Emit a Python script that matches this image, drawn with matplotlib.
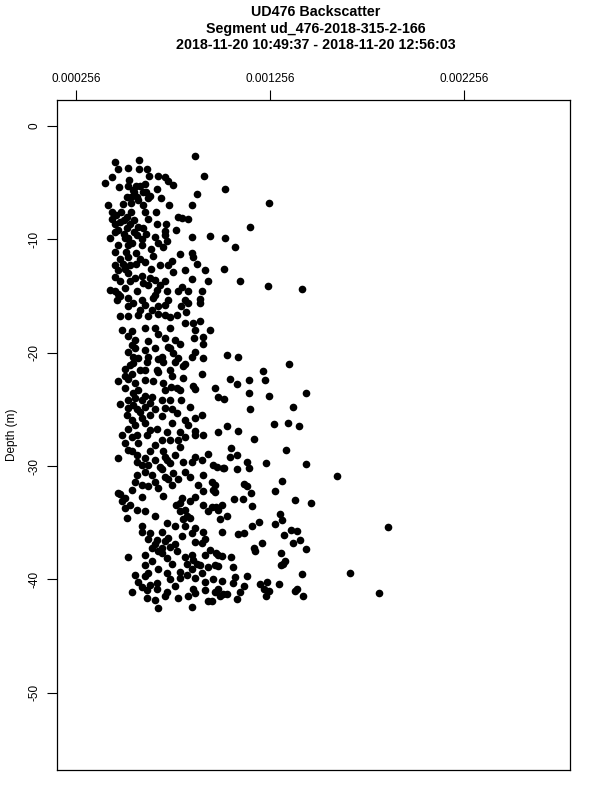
import numpy as np
import matplotlib
matplotlib.use("Agg")
import matplotlib.pyplot as plt

plt.rcParams['font.family'] = ['Liberation Sans', 'DejaVu Sans']
plt.rcParams['axes.unicode_minus'] = False

# backscatter values in units of 1e-6, depth in metres
bs_upper = [454, 581, 473, 521, 581, 619, 442, 404, 631, 679,
            715, 526, 476, 563, 610, 727, 753, 555, 600, 672,
            519, 568, 627, 877, 421, 496, 538, 599, 693, 733,
            854, 439, 487, 538, 610, 667, 779, 803, 834, 442,
            501, 555, 627, 672, 720, 456, 516, 576, 770, 714,
            456, 501, 554, 616, 430, 524, 593, 662, 712, 853,
            473, 524, 593, 679, 722, 456, 514, 566, 641, 705,
            792, 854, 524, 585, 653, 748, 859, 456, 499, 563,
            689, 731, 877, 507, 641, 756, 817, 920, 456, 524,
            593, 662, 714, 851, 937, 482, 533, 627, 800, 456,
            507, 568, 671, 722, 782, 834, 903, 465, 524, 593,
            653, 731, 817, 894, 473]
depth_upper = [-3.2, -3.0, -3.8, -3.7, -3.8, -3.8, -4.5, -5.0, -4.4, -4.4,
               -4.5, -4.8, -5.4, -5.3, -5.1, -4.9, -5.2, -5.8, -5.8, -5.6,
               -6.3, -6.3, -6.4, -6.0, -7.0, -6.9, -6.8, -7.0, -6.4, -7.0,
               -7.0, -7.6, -7.6, -7.6, -7.6, -7.6, -8.0, -8.1, -8.2, -8.2,
               -8.3, -8.3, -8.2, -8.7, -8.7, -8.7, -9.0, -8.9, -9.2, -9.3,
               -9.4, -9.5, -9.4, -9.5, -9.9, -9.9, -10.0, -9.8, -9.6, -9.8,
               -10.5, -10.5, -10.5, -10.3, -10.2, -11.1, -11.1, -11.2, -10.9, -10.7,
               -11.3, -11.2, -11.6, -11.7, -11.5, -11.9, -11.6, -12.3, -12.2, -12.2,
               -12.3, -12.3, -12.2, -12.6, -12.6, -12.9, -12.7, -12.7, -13.3, -13.0,
               -13.2, -13.6, -13.7, -13.5, -13.7, -13.7, -13.7, -14.0, -14.2, -14.6,
               -14.3, -14.6, -14.5, -14.6, -14.6, -14.6, -14.6, -15.4, -15.2, -15.4,
               -15.2, -15.4, -15.4, -15.3, -14.8]

bs_middle = [524, 610, 679, 796, 834, 894, 524, 573, 627, 679,
             714, 774, 820, 817, 859, 894, 490, 542, 610, 662,
             741, 868, 945, 559, 627, 676, 765, 863, 911, 559,
             610, 662, 739, 791, 911, 550, 627, 697, 756, 868,
             851, 911, 550, 619, 679, 765, 817, 507, 610, 671,
             739, 808, 542, 679, 748, 808, 903, 473, 524, 610,
             653, 705, 744, 774, 859, 507, 576, 714, 791, 868,
             559, 645, 697, 796, 482, 524, 593, 739, 842, 610,
             714, 524, 568, 748, 516, 636, 697, 774, 903, 868,
             542, 593, 817, 524, 610, 671, 748, 834, 568, 619,
             722, 791, 868, 507, 576, 697, 782, 868, 911, 542,
             636, 705, 791, 937, 473, 610, 714, 765, 868, 971]
depth_middle = [-15.9, -15.8, -15.9, -15.9, -15.6, -15.6, -16.8, -16.7, -16.8, -16.6,
                -16.7, -16.7, -16.4, -17.4, -17.4, -17.2, -18.0, -18.1, -17.8, -17.8,
                -17.8, -18.0, -18.0, -18.9, -19.0, -18.4, -18.9, -18.7, -18.6, -19.6,
                -19.8, -19.6, -19.6, -19.2, -19.2, -20.4, -20.4, -20.4, -20.0, -19.9,
                -20.4, -20.5, -20.9, -20.8, -20.6, -20.8, -21.0, -21.4, -21.5, -21.5,
                -21.5, -21.2, -21.9, -21.7, -22.1, -22.2, -21.9, -22.5, -22.3, -22.4,
                -22.5, -22.7, -23.0, -23.1, -22.9, -23.1, -23.3, -23.3, -23.3, -23.2,
                -24.0, -23.9, -24.2, -24.2, -24.5, -24.2, -24.2, -24.2, -24.8, -24.8,
                -24.9, -24.9, -25.0, -25.0, -25.5, -25.5, -25.6, -25.3, -25.5, -25.8,
                -25.9, -25.8, -25.9, -26.7, -26.2, -26.7, -26.2, -26.4, -27.3, -27.3,
                -27.0, -27.0, -26.9, -28.0, -28.0, -27.7, -27.7, -27.3, -27.3, -28.7,
                -28.7, -28.7, -28.3, -28.9, -29.3, -29.3, -29.2, -29.0, -29.2, -23.1]

bs_lower = [568, 627, 662, 722, 808, 851, 903, 963, 1014, 568,
            645, 697, 756, 817, 911, 559, 662, 731, 782, 885,
            954, 542, 627, 679, 748, 911, 963, 482, 593, 705,
            800, 868, 490, 791, 842, 911, 954, 507, 568, 817,
            937, 516, 610, 662, 825, 593, 722, 765, 817, 868,
            593, 697, 851, 911, 627, 800, 868, 920, 662, 714,
            765, 903, 645, 679, 739, 945, 610, 697, 774, 851,
            524, 722, 920, 988, 610, 645, 748, 825, 877, 937,
            971, 679, 722, 791, 851, 903, 627, 576, 610, 671,
            739, 791, 868, 920, 963, 542, 619, 671, 722, 765,
            859, 920, 971, 619, 662, 714, 782, 834, 868, 937,
            954, 851, 676, 1014]
depth_lower = [-29.6, -29.9, -29.5, -29.5, -29.6, -29.6, -29.5, -29.9, -30.2, -30.8,
               -30.8, -30.3, -30.6, -30.5, -30.8, -31.4, -31.4, -31.1, -31.1, -31.7,
               -31.4, -32.1, -31.8, -31.9, -31.7, -32.2, -32.1, -32.5, -32.7, -32.6,
               -32.8, -32.7, -33.1, -33.3, -33.1, -33.4, -33.6, -33.7, -33.9, -33.9,
               -34.0, -34.6, -34.0, -34.4, -34.4, -35.3, -35.0, -35.3, -35.3, -35.5,
               -35.8, -35.8, -35.9, -35.8, -36.4, -36.2, -36.7, -36.4, -36.9, -36.6,
               -36.9, -36.8, -37.2, -37.5, -37.1, -37.4, -37.8, -37.7, -37.5, -37.8,
               -38.0, -38.1, -37.8, -37.8, -38.7, -38.4, -38.6, -38.6, -38.6, -38.9,
               -38.7, -39.1, -39.4, -39.3, -39.1, -39.4, -39.4, -40.2, -39.7, -40.3,
               -40.0, -39.9, -39.9, -40.2, -40.0, -41.1, -40.9, -40.8, -41.1, -40.6,
               -40.8, -40.9, -41.1, -41.6, -41.8, -41.5, -41.6, -41.5, -41.2, -41.9,
               -41.9, -42.4, -42.5, -41.3]

# points hidden inside the dark clumps of the core
bs_clumps = [523, 549, 585, 616, 636, 538, 574, 461, 482, 518,
             533, 471, 507, 543, 569, 600, 482, 471, 533, 610,
             559, 600, 636, 688, 662, 482, 430, 549, 585, 647,
             714, 739, 482, 523, 543, 523, 574, 533, 585, 507,
             559, 714, 729, 703, 781, 549, 610, 636, 549, 585,
             662, 559, 636, 492, 543, 523, 569, 662, 739, 817,
             595, 688, 739, 610, 714, 842, 595, 471, 507, 533,
             770, 791, 806, 842, 636, 672, 698, 729, 817, 858,
             894, 827, 559, 595, 636]
depth_clumps = [-5.3, -5.7, -5.3, -5.8, -6.2, -6.3, -6.5, -7.9, -8.5, -8.0,
                -8.7, -9.2, -9.9, -10.3, -9.6, -9.0, -11.7, -12.7, -12.3, -12.0,
                -13.4, -13.9, -13.4, -14.0, -14.9, -15.0, -14.5, -15.6, -16.2, -16.2,
                -15.8, -16.9, -16.8, -18.5, -19.3, -19.9, -20.5, -21.1, -21.5, -22.1,
                -22.7, -18.7, -19.5, -20.8, -20.5, -23.6, -23.8, -24.4, -24.6, -25.2,
                -25.0, -26.4, -26.8, -27.3, -27.4, -28.6, -29.0, -28.1, -27.7, -27.4,
                -29.9, -30.1, -29.7, -30.5, -31.0, -31.0, -31.7, -32.4, -32.8, -33.4,
                -33.4, -34.0, -34.7, -34.6, -35.9, -36.5, -37.2, -36.3, -38.0, -38.3,
                -38.7, -39.6, -39.6, -40.7, -40.5]

bs_tail = [1023, 1248, 1152, 1024, 1073, 1018, 1100, 1243, 1420, 1035,
           1091, 1354, 1217, 1050, 1148, 1229, 1085, 985, 1019, 1145,
           1248, 1439, 1153, 1375, 1275, 1348, 1404, 1033, 987, 1090,
           1172, 1339, 1055, 1049, 1085, 1135, 1236, 1442, 980, 1019,
           1085, 1145, 1600, 1315, 971, 1122, 1136, 1282, 1155, 971,
           1069, 1117, 1382, 1468, 1007, 976, 1160, 985, 1033, 1306,
           997, 1197, 1164, 1279, 1315, 1009, 1088, 1119, 1365, 1392,
           1325, 1212, 1174, 1179, 1373, 1410, 1440, 976, 1007, 1054,
           1310, 1332, 1320, 1310, 988, 1063, 1418, 1664, 1006, 1073,
           1066, 1138, 1119, 1205, 1241, 1225, 1250, 1303, 985, 996,
           1033, 1099, 1086, 1233, 1392, 1385, 1423, 1815, 1863, 867,
           916, 947]
depth_tail = [-5.6, -6.8, -8.9, -9.9, -10.7, -12.6, -13.7, -14.1, -14.4, -20.2,
              -20.4, -21.0, -21.6, -22.3, -22.4, -22.4, -22.8, -23.9, -24.1, -23.6,
              -23.8, -23.6, -25.0, -24.8, -26.3, -26.2, -26.5, -26.5, -27.0, -26.9,
              -27.6, -28.6, -28.4, -29.2, -29.0, -29.6, -29.7, -29.8, -30.1, -30.2,
              -30.3, -30.2, -30.9, -31.3, -31.7, -31.6, -31.8, -32.2, -32.4, -32.3,
              -32.9, -32.9, -33.0, -33.3, -33.4, -33.6, -33.5, -33.9, -34.4, -34.2,
              -34.7, -34.9, -35.3, -35.1, -34.8, -35.8, -36.0, -35.9, -35.6, -35.7,
              -36.1, -36.8, -37.2, -37.5, -36.8, -36.5, -37.3, -37.7, -37.9, -38.0,
              -37.7, -38.4, -38.6, -38.7, -38.8, -38.9, -39.5, -39.4, -40.1, -39.8,
              -40.3, -39.7, -40.6, -40.4, -40.2, -40.8, -41.0, -40.4, -40.8, -41.5,
              -41.3, -41.1, -41.7, -41.5, -40.8, -41.0, -41.5, -41.2, -35.4, -2.7,
              -4.4, -9.7]

x_ticks = [0.000256, 0.001256, 0.002256]
y_ticks = [0, -10, -20, -30, -40, -50]

bs = np.array(bs_upper + bs_middle + bs_lower + bs_clumps + bs_tail) * 1e-6
depth = np.array(depth_upper + depth_middle + depth_lower + depth_clumps + depth_tail)

fig = plt.figure(figsize=(6, 8), dpi=100)
ax = fig.add_axes([0.0955, 0.0375, 0.855, 0.837])

ax.plot(bs, depth, 'o', color='black', markersize=5.5, markeredgewidth=0)

ax.set_xlim(0.000158, 0.002802)
ax.set_ylim(-56.8, 2.24)

ax.xaxis.tick_top()
ax.set_xticks(x_ticks)
ax.set_xticklabels(['%.6f' % v for v in x_ticks])
ax.set_yticks(y_ticks)
ax.set_yticklabels([str(v) for v in y_ticks], rotation=90, va='center')
ax.tick_params(axis='x', which='both', top=True, bottom=False, length=7,
               width=0.8, labelsize=8.5, pad=4)
ax.tick_params(axis='y', which='both', left=True, right=False, length=7,
               width=0.8, labelsize=8.5, pad=5)
for s in ax.spines.values():
    s.set_linewidth(0.9)

ax.set_ylabel('Depth (m)', fontsize=8.5, labelpad=8)

fig.text(0.526, 0.985, 'UD476 Backscatter', ha='center', va='center',
         fontsize=10.3, fontweight='bold')
fig.text(0.526, 0.964, 'Segment ud_476-2018-315-2-166', ha='center', va='center',
         fontsize=10.3, fontweight='bold')
fig.text(0.526, 0.944, '2018-11-20 10:49:37 - 2018-11-20 12:56:03', ha='center',
         va='center', fontsize=10.3, fontweight='bold')

fig.savefig('out.png', dpi=100)
